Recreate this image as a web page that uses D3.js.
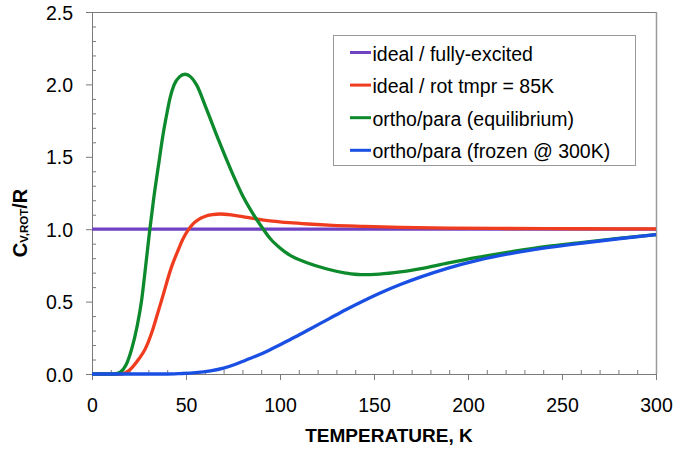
<!DOCTYPE html>
<html>
<head>
<meta charset="utf-8">
<script src="https://cdn.jsdelivr.net/npm/d3@7"></script>
<style>
  body { margin: 0; background: #fff; }
  svg { display: block; }
  text { font-family: "Liberation Sans", Arial, Helvetica, sans-serif; fill: #000; }
</style>
</head>
<body>
<svg id="chart" width="674" height="450"></svg>
<script>
// Axis tick values
const xTicks = [0, 50, 100, 150, 200, 250, 300];
const yTicks = [0, 0.5, 1.0, 1.5, 2.0, 2.5];

// Legend entries
const seriesNames = [
  "ideal / fully-excited",
  "ideal / rot tmpr = 85K",
  "ortho/para (equilibrium)",
  "ortho/para (frozen @ 300K)"
];
const seriesColors = ["#6f42c4", "#f03c1e", "#0d8a2c", "#1a4fe3"];

// ideal / fully-excited
const idealT  = [0, 300];
const idealCv = [1.0, 1.0];

// ideal / rot tmpr = 85K
const rotT  = [0, 16, 18, 20, 22, 25, 28.2, 31.7, 34.5, 37.1, 42.4, 45.9, 48.5, 51.2, 54, 57, 60, 64, 68, 74, 80, 88, 96, 105, 115, 128, 145, 164, 190, 220, 260, 300];
const rotCv = [0, 0, 0.01, 0.028, 0.055, 0.105, 0.17, 0.283, 0.40, 0.513, 0.743, 0.858, 0.935, 0.995, 1.04, 1.07, 1.088, 1.10, 1.105, 1.099, 1.087, 1.07, 1.056, 1.045, 1.036, 1.027, 1.02, 1.013, 1.008, 1.005, 1.003, 1.002];

// ortho/para (equilibrium)
const eqT  = [0, 12, 15, 18, 21, 24, 26.5, 28.5, 30.5, 32.6, 35.8, 37.5, 39.7, 41.5, 43.6, 46.5, 49.5, 52.5, 55.7, 60.6, 67.2, 75.2, 79.6, 85, 90.3, 95, 100, 105, 114, 125, 135, 143, 153, 164, 175, 189, 205, 224, 242, 260, 280, 300];
const eqCv = [0, 0, 0.012, 0.06, 0.168, 0.33, 0.52, 0.74, 0.97, 1.19, 1.48, 1.63, 1.79, 1.905, 1.995, 2.052, 2.07, 2.052, 1.995, 1.84, 1.62, 1.37, 1.245, 1.12, 1.015, 0.932, 0.87, 0.822, 0.77, 0.725, 0.697, 0.686, 0.69, 0.705, 0.728, 0.765, 0.805, 0.847, 0.881, 0.907, 0.936, 0.962];

// ortho/para (frozen @ 300K)
const frozenT  = [0, 40, 47, 55, 63, 70, 76, 82, 88, 94, 100, 108, 117, 126, 135, 144, 153, 164, 175, 189, 205, 224, 242, 260, 280, 300];
const frozenCv = [0, 0, 0.003, 0.009, 0.022, 0.041, 0.066, 0.097, 0.128, 0.163, 0.202, 0.255, 0.318, 0.381, 0.444, 0.503, 0.558, 0.618, 0.671, 0.73, 0.785, 0.835, 0.872, 0.903, 0.934, 0.962];

const svg = d3.select("#chart");
const axisColor = "#7a7a7a";

const x = d3.scaleLinear().domain([0, 300]).range([92, 656]);
const y = d3.scaleLinear().domain([0, 2.5]).range([374, 12]);

// plot frame (top and right edges)
svg.append("line")
  .attr("x1", x(0)).attr("x2", x(300)).attr("y1", y(2.5) + 0.5).attr("y2", y(2.5) + 0.5)
  .attr("stroke", axisColor).attr("stroke-width", 1);
svg.append("line")
  .attr("x1", x(300) + 0.5).attr("x2", x(300) + 0.5).attr("y1", y(2.5)).attr("y2", y(0))
  .attr("stroke", "#9a9a9a").attr("stroke-width", 1.5);

// minor ticks (inside)
const xMinor = d3.range(10, 300, 10).filter(v => v % 50 !== 0);
const yMinor = d3.range(1, 25).map(v => v / 10).filter(v => Math.round(v * 10) % 5 !== 0);

svg.append("g")
  .attr("transform", `translate(0,${y(0)})`)
  .call(d3.axisBottom(x).tickValues(xMinor).tickSize(-4).tickFormat(""))
  .call(g => g.select(".domain").remove())
  .call(g => g.selectAll("line").attr("stroke", axisColor));

svg.append("g")
  .attr("transform", `translate(${x(0)},0)`)
  .call(d3.axisLeft(y).tickValues(yMinor).tickSize(-4).tickFormat(""))
  .call(g => g.select(".domain").remove())
  .call(g => g.selectAll("line").attr("stroke", axisColor));

// major axes
const xAxis = svg.append("g")
  .attr("transform", `translate(0,${y(0)})`)
  .call(d3.axisBottom(x).tickValues(xTicks).tickSize(6).tickSizeOuter(0).tickPadding(18).tickFormat(d3.format("d")));
xAxis.select(".domain").attr("stroke", axisColor);
xAxis.selectAll("line").attr("stroke", axisColor);
xAxis.selectAll("text").attr("font-size", 19.5).attr("fill", "#000")
  .style("font-family", '"Liberation Sans", Arial, sans-serif');

const yAxis = svg.append("g")
  .attr("transform", `translate(${x(0)},0)`)
  .call(d3.axisLeft(y).tickValues(yTicks).tickSize(6).tickSizeOuter(0).tickPadding(13).tickFormat(d3.format(".1f")));
yAxis.select(".domain").attr("stroke", axisColor);
yAxis.selectAll("line").attr("stroke", axisColor);
yAxis.selectAll("text").attr("font-size", 19.5).attr("fill", "#000").attr("dy", "0.36em")
  .style("font-family", '"Liberation Sans", Arial, sans-serif');

// axis titles
svg.append("text")
  .attr("x", 389).attr("y", 442)
  .attr("text-anchor", "middle")
  .attr("font-size", 19).attr("font-weight", "bold")
  .text("TEMPERATURE, K");

const yTitle = svg.append("text")
  .attr("transform", "translate(27,223) rotate(-90)")
  .attr("text-anchor", "middle")
  .attr("font-weight", "bold")
  .attr("font-size", 20);
yTitle.append("tspan").text("C");
yTitle.append("tspan").attr("font-size", 11.5).attr("dy", 1).text("V,ROT");
yTitle.append("tspan").attr("dy", -1).text("/R");

// curves
const line = d3.line()
  .x(d => x(d[0]))
  .y(d => y(d[1]))
  .curve(d3.curveMonotoneX);

const series = [
  d3.zip(idealT, idealCv),
  d3.zip(rotT, rotCv),
  d3.zip(eqT, eqCv),
  d3.zip(frozenT, frozenCv)
];

svg.append("g").selectAll("path")
  .data(series)
  .join("path")
  .attr("d", line)
  .attr("fill", "none")
  .attr("stroke", (d, i) => seriesColors[i])
  .attr("stroke-width", 3.3)
  .attr("stroke-linejoin", "round")
  .attr("stroke-linecap", "butt");

// legend
const legend = svg.append("g");
legend.append("rect")
  .attr("x", 333.5).attr("y", 35.5)
  .attr("width", 302).attr("height", 130)
  .attr("fill", "#fff").attr("stroke", "#999").attr("stroke-width", 1);

const rows = legend.selectAll("g.row")
  .data(seriesNames)
  .join("g")
  .attr("class", "row")
  .attr("transform", (d, i) => `translate(0,${52.5 + i * 32.6})`);
rows.append("line")
  .attr("x1", 350).attr("x2", 371)
  .attr("stroke", (d, i) => seriesColors[i])
  .attr("stroke-width", 3);
rows.append("text")
  .attr("x", 372.5).attr("y", 8)
  .attr("font-size", 19.5)
  .text(d => d);
</script>
</body>
</html>
